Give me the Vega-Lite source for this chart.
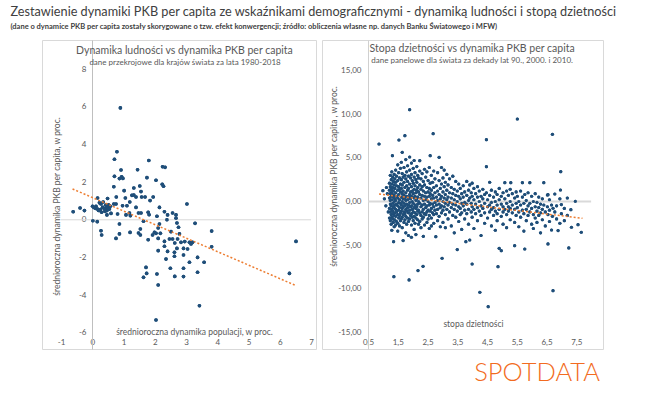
{
"$schema": "https://vega.github.io/schema/vega-lite/v6.json",
"background": "white",
"padding": {"left": 10, "top": 6, "right": 0, "bottom": 0},
"config": {
  "locale": {"number": {"decimal": ",", "thousands": " ", "grouping": [3], "currency": ["", ""], "minus": "-"}},
  "font": "Lato",
  "view": {"stroke": "#D9D9D9", "strokeWidth": 1},
  "axis": {"grid": false, "ticks": false, "domain": false, "labelOverlap": false, "labelFlush": false, "labelBound": false, "labelFont": "Lato", "labelFontSize": 8, "labelColor": "#595959", "titleFont": "Lato", "titleFontSize": 8.5, "titleColor": "#595959", "titleFontWeight": "normal", "labelPadding": 0}
},
"title": {"text": "Zestawienie dynamiki PKB per capita ze wskaźnikami demograficznymi - dynamiką ludności i stopą dzietności", "subtitle": "(dane o dynamice PKB per capita zostały skorygowane o tzw. efekt konwergencji; źródło: obliczenia własne np. danych Banku Światowego i MFW)", "anchor": "start", "dx": -31, "fontSize": 12.7, "fontWeight": "normal", "color": "#404040", "subtitleFontSize": 7.5, "subtitleColor": "#404040", "subtitleFontWeight": "bold", "subtitlePadding": 4, "offset": 9},
"spacing": 4,
"datasets": {
 "popData": [
{"pop":0.9,"gdp":5.95},{"pop":0.79,"gdp":3.62},{"pop":0.71,"gdp":3.22},{"pop":1.81,"gdp":3.15},{"pop":2.25,"gdp":2.82},{"pop":2.33,"gdp":2.79},{"pop":0.92,"gdp":2.65},{"pop":1.45,"gdp":2.66},{"pop":0.71,"gdp":2.31},{"pop":0.94,"gdp":2.29},{"pop":0.98,"gdp":2.2},{"pop":0.87,"gdp":2.19},{"pop":1.75,"gdp":2.24},{"pop":2.04,"gdp":2.1},{"pop":2.24,"gdp":1.89},{"pop":2.28,"gdp":1.78},{"pop":0.69,"gdp":1.76},{"pop":1.52,"gdp":1.8},{"pop":1.33,"gdp":1.69},{"pop":1.02,"gdp":1.55},{"pop":1.56,"gdp":1.5},{"pop":1.33,"gdp":1.32},{"pop":1.4,"gdp":1.21},{"pop":1.58,"gdp":1.21},{"pop":1.69,"gdp":1.21},{"pop":1.95,"gdp":1.21},{"pop":0.77,"gdp":1.21},{"pop":1.06,"gdp":1.16},{"pop":0.17,"gdp":1.16},{"pop":0.49,"gdp":1.13},
{"pop":0.28,"gdp":0.84},{"pop":0.23,"gdp":0.9},{"pop":1.85,"gdp":1.02},{"pop":0.69,"gdp":0.84},{"pop":0.97,"gdp":0.75},{"pop":1.11,"gdp":0.75},{"pop":1.4,"gdp":0.66},{"pop":0.12,"gdp":0.72},{"pop":0.01,"gdp":0.72},{"pop":-0.61,"gdp":0.43},{"pop":-0.39,"gdp":0.63},{"pop":-0.25,"gdp":0.49},{"pop":0.1,"gdp":0.61},{"pop":0.17,"gdp":0.57},{"pop":0.26,"gdp":0.54},{"pop":0.33,"gdp":0.66},{"pop":0.39,"gdp":0.57},{"pop":0.44,"gdp":0.61},{"pop":0.49,"gdp":0.66},{"pop":0.47,"gdp":0.49},{"pop":0.55,"gdp":0.57},{"pop":0.3,"gdp":0.4},{"pop":0.41,"gdp":0.45},{"pop":0.6,"gdp":0.34},{"pop":0.47,"gdp":0.26},{"pop":0.76,"gdp":0.84},{"pop":0.81,"gdp":0.31},{"pop":1.08,"gdp":0.26},{"pop":1.19,"gdp":0.36},{"pop":1.22,"gdp":0.22},{"pop":1.48,"gdp":0.36},{"pop":1.56,"gdp":0.36},{"pop":1.79,"gdp":0.4},{"pop":1.82,"gdp":0.27},{"pop":2.15,"gdp":0.66},{"pop":2.31,"gdp":0.43},{"pop":2.41,"gdp":0.26},{"pop":2.57,"gdp":0.36},{"pop":2.68,"gdp":0.26},{"pop":2.68,"gdp":0.08},{"pop":2.39,"gdp":0.0},{"pop":2.07,"gdp":0.19},{"pop":3.03,"gdp":0.84},{"pop":2.71,"gdp":-0.17},{"pop":3.29,"gdp":-0.19},{"pop":3.82,"gdp":-0.6},{"pop":6.52,"gdp":-1.15},{"pop":6.31,"gdp":-2.85},
{"pop":0.02,"gdp":-0.05},{"pop":0.16,"gdp":-0.1},{"pop":0.28,"gdp":-0.58},{"pop":0.3,"gdp":-0.81},{"pop":0.87,"gdp":-0.22},{"pop":0.87,"gdp":-0.75},{"pop":0.76,"gdp":-0.99},{"pop":1.21,"gdp":-0.67},{"pop":1.48,"gdp":-0.7},{"pop":1.54,"gdp":-0.49},{"pop":1.54,"gdp":-0.81},{"pop":1.64,"gdp":-0.08},{"pop":1.79,"gdp":-1.06},{"pop":1.93,"gdp":-0.81},{"pop":1.99,"gdp":-0.67},{"pop":2.04,"gdp":-0.72},{"pop":2.15,"gdp":-0.22},{"pop":2.11,"gdp":-0.44},{"pop":2.18,"gdp":-0.72},{"pop":2.11,"gdp":-0.99},{"pop":2.31,"gdp":-1.15},{"pop":2.31,"gdp":-1.41},{"pop":2.47,"gdp":-1.02},{"pop":2.52,"gdp":-0.63},{"pop":2.57,"gdp":-1.02},{"pop":2.64,"gdp":-1.23},{"pop":2.79,"gdp":-0.75},{"pop":2.73,"gdp":-1.02},{"pop":2.76,"gdp":-0.4},{"pop":2.84,"gdp":-1.2},{"pop":2.96,"gdp":-1.16},{"pop":3.11,"gdp":-1.2},{"pop":3.16,"gdp":-1.29},{"pop":3.21,"gdp":-1.2},{"pop":2.92,"gdp":-1.52},{"pop":3.05,"gdp":-1.55},{"pop":2.71,"gdp":-1.52},{"pop":2.63,"gdp":-1.73},{"pop":2.41,"gdp":-1.68},{"pop":2.11,"gdp":-1.64},{"pop":2.36,"gdp":-2.09},{"pop":2.63,"gdp":-1.94},{"pop":2.92,"gdp":-1.87},{"pop":3.11,"gdp":-2.26},{"pop":3.37,"gdp":-2.0},{"pop":3.58,"gdp":-2.26},{"pop":3.82,"gdp":-1.43},{"pop":2.92,"gdp":-2.58},{"pop":3.37,"gdp":-2.79},{"pop":2.5,"gdp":-2.58},{"pop":2.92,"gdp":-3.02},{"pop":2.64,"gdp":-3.01},{"pop":1.72,"gdp":-2.53},{"pop":1.74,"gdp":-2.85},{"pop":1.64,"gdp":-3.06},{"pop":2.07,"gdp":-2.88},{"pop":2.11,"gdp":-3.47},{"pop":3.43,"gdp":-4.57},{"pop":2.04,"gdp":-5.33},
{"pop":0.35,"gdp":0.95},{"pop":0.52,"gdp":0.8},{"pop":0.58,"gdp":0.72},{"pop":0.43,"gdp":0.78},{"pop":0.2,"gdp":0.5},{"pop":0.05,"gdp":0.65},{"pop":1.2,"gdp":0.95},{"pop":1.27,"gdp":1.3}
 ],
 "trendL": [{"pop":-0.63,"gdp":1.64},{"pop":6.52,"gdp":-3.5}],
 "tfrData": [
{"tfr":0.87,"gdp":6.59},{"tfr":1.0,"gdp":1.24},{"tfr":1.05,"gdp":0.3},{"tfr":1.1,"gdp":-0.5},{"tfr":1.15,"gdp":0.9},{"tfr":1.12,"gdp":1.6},{"tfr":1.18,"gdp":-1.2},
{"tfr":1.22,"gdp":2.1},{"tfr":1.22,"gdp":0.4},{"tfr":1.22,"gdp":-0.8},{"tfr":1.22,"gdp":-1.9},{"tfr":1.22,"gdp":1.3},
{"tfr":1.25,"gdp":3.0},{"tfr":1.25,"gdp":1.7},{"tfr":1.25,"gdp":0.9},{"tfr":1.25,"gdp":0.1},{"tfr":1.25,"gdp":-0.3},{"tfr":1.25,"gdp":-1.2},{"tfr":1.25,"gdp":-2.2},
{"tfr":1.28,"gdp":2.5},{"tfr":1.28,"gdp":1.4},{"tfr":1.28,"gdp":0.6},{"tfr":1.28,"gdp":-0.5},{"tfr":1.28,"gdp":-1.5},{"tfr":1.28,"gdp":-2.6},
{"tfr":1.3,"gdp":3.4},{"tfr":1.3,"gdp":2.0},{"tfr":1.3,"gdp":1.1},{"tfr":1.3,"gdp":0.2},{"tfr":1.3,"gdp":-0.9},{"tfr":1.3,"gdp":-1.8},{"tfr":1.3,"gdp":-3.3},
{"tfr":1.33,"gdp":2.8},{"tfr":1.33,"gdp":1.6},{"tfr":1.33,"gdp":0.8},{"tfr":1.33,"gdp":-0.2},{"tfr":1.33,"gdp":-1.1},{"tfr":1.33,"gdp":-2.0},
{"tfr":1.35,"gdp":2.3},{"tfr":1.35,"gdp":1.2},{"tfr":1.35,"gdp":0.5},{"tfr":1.35,"gdp":-0.6},{"tfr":1.35,"gdp":-1.4},{"tfr":1.35,"gdp":-2.4},
{"tfr":1.38,"gdp":3.1},{"tfr":1.38,"gdp":1.9},{"tfr":1.38,"gdp":0.7},{"tfr":1.38,"gdp":0.0},{"tfr":1.38,"gdp":-0.7},{"tfr":1.38,"gdp":-1.6},{"tfr":1.38,"gdp":-2.9},
{"tfr":1.4,"gdp":2.6},{"tfr":1.4,"gdp":1.5},{"tfr":1.4,"gdp":0.3},{"tfr":1.4,"gdp":-0.4},{"tfr":1.4,"gdp":-1.3},{"tfr":1.4,"gdp":-2.1},
{"tfr":1.32,"gdp":5.25},{"tfr":1.36,"gdp":-4.61},{"tfr":1.37,"gdp":-8.62},{"tfr":1.54,"gdp":7.05},
{"tfr":1.43,"gdp":3.6},{"tfr":1.43,"gdp":2.2},{"tfr":1.43,"gdp":1.0},{"tfr":1.43,"gdp":0.1},{"tfr":1.43,"gdp":-0.9},{"tfr":1.43,"gdp":-1.7},{"tfr":1.43,"gdp":-2.7},
{"tfr":1.46,"gdp":2.9},{"tfr":1.46,"gdp":1.8},{"tfr":1.46,"gdp":0.6},{"tfr":1.46,"gdp":-0.3},{"tfr":1.46,"gdp":-1.2},{"tfr":1.46,"gdp":-2.3},
{"tfr":1.5,"gdp":4.2},{"tfr":1.5,"gdp":2.4},{"tfr":1.5,"gdp":1.3},{"tfr":1.5,"gdp":0.4},{"tfr":1.5,"gdp":-0.5},{"tfr":1.5,"gdp":-1.5},{"tfr":1.5,"gdp":-2.5},{"tfr":1.5,"gdp":-3.4},
{"tfr":1.53,"gdp":3.3},{"tfr":1.53,"gdp":1.7},{"tfr":1.53,"gdp":0.8},{"tfr":1.53,"gdp":-0.1},{"tfr":1.53,"gdp":-1.0},{"tfr":1.53,"gdp":-1.9},
{"tfr":1.56,"gdp":2.7},{"tfr":1.56,"gdp":1.4},{"tfr":1.56,"gdp":0.2},{"tfr":1.56,"gdp":-0.7},{"tfr":1.56,"gdp":-1.6},{"tfr":1.56,"gdp":-2.8},
{"tfr":1.59,"gdp":3.8},{"tfr":1.59,"gdp":2.0},{"tfr":1.59,"gdp":1.1},{"tfr":1.59,"gdp":-0.2},{"tfr":1.59,"gdp":-1.3},{"tfr":1.59,"gdp":-2.2},
{"tfr":1.62,"gdp":4.5},{"tfr":1.62,"gdp":2.5},{"tfr":1.62,"gdp":1.5},{"tfr":1.62,"gdp":0.5},{"tfr":1.62,"gdp":-0.4},{"tfr":1.62,"gdp":-1.1},{"tfr":1.62,"gdp":-2.0},
{"tfr":1.65,"gdp":5.64},{"tfr":1.65,"gdp":3.2},{"tfr":1.65,"gdp":1.9},{"tfr":1.65,"gdp":0.9},{"tfr":1.65,"gdp":0.0},{"tfr":1.65,"gdp":-0.8},{"tfr":1.65,"gdp":-1.8},{"tfr":1.65,"gdp":-3.0},
{"tfr":1.68,"gdp":2.8},{"tfr":1.68,"gdp":1.2},{"tfr":1.68,"gdp":0.3},{"tfr":1.68,"gdp":-0.6},{"tfr":1.68,"gdp":-1.5},{"tfr":1.68,"gdp":-4.49},
{"tfr":1.71,"gdp":3.9},{"tfr":1.71,"gdp":2.2},{"tfr":1.71,"gdp":0.7},{"tfr":1.71,"gdp":-0.2},{"tfr":1.71,"gdp":-1.2},{"tfr":1.71,"gdp":-2.4},
{"tfr":1.74,"gdp":7.55},{"tfr":1.74,"gdp":3.0},{"tfr":1.74,"gdp":1.6},{"tfr":1.74,"gdp":0.4},{"tfr":1.74,"gdp":-0.5},{"tfr":1.74,"gdp":-1.4},{"tfr":1.74,"gdp":-2.1},
{"tfr":1.77,"gdp":4.8},{"tfr":1.77,"gdp":2.6},{"tfr":1.77,"gdp":1.0},{"tfr":1.77,"gdp":0.1},{"tfr":1.77,"gdp":-0.9},{"tfr":1.77,"gdp":-1.7},{"tfr":1.77,"gdp":-3.6},
{"tfr":1.8,"gdp":3.4},{"tfr":1.8,"gdp":1.8},{"tfr":1.8,"gdp":0.6},{"tfr":1.8,"gdp":-0.3},{"tfr":1.8,"gdp":-1.1},{"tfr":1.8,"gdp":-2.6},
{"tfr":1.83,"gdp":4.1},{"tfr":1.83,"gdp":2.3},{"tfr":1.83,"gdp":1.3},{"tfr":1.83,"gdp":0.2},{"tfr":1.83,"gdp":-0.7},{"tfr":1.83,"gdp":-1.9},
{"tfr":1.86,"gdp":2.9},{"tfr":1.86,"gdp":1.5},{"tfr":1.86,"gdp":0.5},{"tfr":1.86,"gdp":-0.4},{"tfr":1.86,"gdp":-1.3},{"tfr":1.86,"gdp":-2.3},{"tfr":1.86,"gdp":-3.9},
{"tfr":1.88,"gdp":-9.0},
{"tfr":1.9,"gdp":10.53},{"tfr":1.9,"gdp":5.1},{"tfr":1.9,"gdp":3.6},{"tfr":1.9,"gdp":2.0},{"tfr":1.9,"gdp":0.8},{"tfr":1.9,"gdp":-0.1},{"tfr":1.9,"gdp":-1.0},{"tfr":1.9,"gdp":-2.0},
{"tfr":1.93,"gdp":2.7},{"tfr":1.93,"gdp":1.1},{"tfr":1.93,"gdp":0.3},{"tfr":1.93,"gdp":-0.6},{"tfr":1.93,"gdp":-1.6},
{"tfr":1.96,"gdp":4.4},{"tfr":1.96,"gdp":3.1},{"tfr":1.96,"gdp":1.7},{"tfr":1.96,"gdp":0.6},{"tfr":1.96,"gdp":-0.5},{"tfr":1.96,"gdp":-1.4},{"tfr":1.96,"gdp":-2.7},{"tfr":1.96,"gdp":-4.1},
{"tfr":1.99,"gdp":2.4},{"tfr":1.99,"gdp":1.2},{"tfr":1.99,"gdp":0.0},{"tfr":1.99,"gdp":-0.9},{"tfr":1.99,"gdp":-1.8},
{"tfr":2.02,"gdp":3.8},{"tfr":2.02,"gdp":2.1},{"tfr":2.02,"gdp":0.9},{"tfr":2.02,"gdp":-0.2},{"tfr":2.02,"gdp":-1.2},{"tfr":2.02,"gdp":-2.2},
{"tfr":2.05,"gdp":4.7},{"tfr":2.05,"gdp":2.8},{"tfr":2.05,"gdp":1.4},{"tfr":2.05,"gdp":0.4},{"tfr":2.05,"gdp":-0.7},{"tfr":2.05,"gdp":-1.7},{"tfr":2.05,"gdp":-3.2},
{"tfr":2.08,"gdp":3.3},{"tfr":2.08,"gdp":1.8},{"tfr":2.08,"gdp":0.6},{"tfr":2.08,"gdp":-0.4},{"tfr":2.08,"gdp":-1.3},{"tfr":2.08,"gdp":-2.5},
{"tfr":2.11,"gdp":2.5},{"tfr":2.11,"gdp":1.0},{"tfr":2.11,"gdp":0.1},{"tfr":2.11,"gdp":-0.8},{"tfr":2.11,"gdp":-1.9},{"tfr":2.11,"gdp":-3.8},
{"tfr":2.14,"gdp":4.0},{"tfr":2.14,"gdp":2.2},{"tfr":2.14,"gdp":1.3},{"tfr":2.14,"gdp":0.3},{"tfr":2.14,"gdp":-0.6},{"tfr":2.14,"gdp":-1.5},
{"tfr":2.17,"gdp":3.0},{"tfr":2.17,"gdp":1.6},{"tfr":2.17,"gdp":0.5},{"tfr":2.17,"gdp":-0.3},{"tfr":2.17,"gdp":-1.1},{"tfr":2.17,"gdp":-2.1},{"tfr":2.18,"gdp":-7.93},
{"tfr":2.2,"gdp":2.7},{"tfr":2.2,"gdp":1.1},{"tfr":2.2,"gdp":0.0},{"tfr":2.2,"gdp":-1.0},{"tfr":2.2,"gdp":-2.6},
{"tfr":2.24,"gdp":4.68},{"tfr":2.24,"gdp":3.5},{"tfr":2.24,"gdp":1.9},{"tfr":2.24,"gdp":0.8},{"tfr":2.24,"gdp":-0.2},{"tfr":2.24,"gdp":-1.3},{"tfr":2.24,"gdp":-2.3},
{"tfr":2.28,"gdp":2.6},{"tfr":2.28,"gdp":1.4},{"tfr":2.28,"gdp":0.4},{"tfr":2.28,"gdp":-0.6},{"tfr":2.28,"gdp":-1.6},{"tfr":2.28,"gdp":-3.0},
{"tfr":2.32,"gdp":3.2},{"tfr":2.32,"gdp":1.7},{"tfr":2.32,"gdp":0.7},{"tfr":2.32,"gdp":-0.4},{"tfr":2.32,"gdp":-1.2},{"tfr":2.32,"gdp":-2.0},{"tfr":2.35,"gdp":-7.44},
{"tfr":2.36,"gdp":2.3},{"tfr":2.36,"gdp":1.2},{"tfr":2.36,"gdp":0.1},{"tfr":2.36,"gdp":-0.9},{"tfr":2.36,"gdp":-1.8},{"tfr":2.36,"gdp":-4.0},
{"tfr":2.4,"gdp":3.7},{"tfr":2.4,"gdp":1.9},{"tfr":2.4,"gdp":0.6},{"tfr":2.4,"gdp":-0.3},{"tfr":2.4,"gdp":-1.4},{"tfr":2.4,"gdp":-2.7},
{"tfr":2.44,"gdp":2.8},{"tfr":2.44,"gdp":1.0},{"tfr":2.44,"gdp":0.2},{"tfr":2.44,"gdp":-0.7},{"tfr":2.44,"gdp":-1.5},
{"tfr":2.48,"gdp":3.4},{"tfr":2.48,"gdp":1.6},{"tfr":2.48,"gdp":0.5},{"tfr":2.48,"gdp":-0.5},{"tfr":2.48,"gdp":-1.2},{"tfr":2.48,"gdp":-2.4},
{"tfr":2.52,"gdp":2.4},{"tfr":2.52,"gdp":1.1},{"tfr":2.52,"gdp":0.0},{"tfr":2.52,"gdp":-1.0},{"tfr":2.52,"gdp":-2.0},
{"tfr":2.56,"gdp":3.9},{"tfr":2.56,"gdp":1.5},{"tfr":2.56,"gdp":0.6},{"tfr":2.56,"gdp":-0.4},{"tfr":2.56,"gdp":-1.6},{"tfr":2.56,"gdp":-3.1},
{"tfr":2.59,"gdp":5.25},{"tfr":2.59,"gdp":2.1},{"tfr":2.59,"gdp":0.9},{"tfr":2.59,"gdp":-0.2},{"tfr":2.59,"gdp":-1.1},
{"tfr":2.63,"gdp":3.0},{"tfr":2.63,"gdp":1.3},{"tfr":2.63,"gdp":0.3},{"tfr":2.63,"gdp":-0.8},{"tfr":2.63,"gdp":-1.9},{"tfr":2.63,"gdp":-2.8},
{"tfr":2.67,"gdp":2.2},{"tfr":2.67,"gdp":0.7},{"tfr":2.67,"gdp":-0.3},{"tfr":2.67,"gdp":-1.3},{"tfr":2.69,"gdp":7.78},
{"tfr":2.71,"gdp":3.5},{"tfr":2.71,"gdp":1.6},{"tfr":2.71,"gdp":0.4},{"tfr":2.71,"gdp":-0.6},{"tfr":2.71,"gdp":-1.5},{"tfr":2.71,"gdp":-2.5},
{"tfr":2.75,"gdp":2.6},{"tfr":2.75,"gdp":1.0},{"tfr":2.75,"gdp":-0.1},{"tfr":2.75,"gdp":-1.0},{"tfr":2.78,"gdp":-4.04},
{"tfr":2.8,"gdp":1.8},{"tfr":2.8,"gdp":0.5},{"tfr":2.8,"gdp":-0.4},{"tfr":2.8,"gdp":-1.4},
{"tfr":2.84,"gdp":3.3},{"tfr":2.84,"gdp":1.2},{"tfr":2.84,"gdp":0.1},{"tfr":2.84,"gdp":-0.9},{"tfr":2.84,"gdp":-2.2},
{"tfr":2.89,"gdp":5.06},{"tfr":2.89,"gdp":2.4},{"tfr":2.89,"gdp":0.8},{"tfr":2.89,"gdp":-0.3},{"tfr":2.89,"gdp":-1.7},
{"tfr":2.93,"gdp":1.5},{"tfr":2.93,"gdp":0.3},{"tfr":2.93,"gdp":-0.7},{"tfr":2.93,"gdp":-2.9},
{"tfr":2.97,"gdp":3.9},{"tfr":2.97,"gdp":2.0},{"tfr":2.97,"gdp":0.6},{"tfr":2.97,"gdp":-0.5},{"tfr":2.97,"gdp":-1.3},{"tfr":2.99,"gdp":-6.51},
{"tfr":3.02,"gdp":2.7},{"tfr":3.02,"gdp":1.1},{"tfr":3.02,"gdp":0.0},{"tfr":3.02,"gdp":-1.0},{"tfr":3.02,"gdp":-2.4},
{"tfr":3.06,"gdp":3.6},{"tfr":3.06,"gdp":1.7},{"tfr":3.06,"gdp":0.4},{"tfr":3.06,"gdp":-0.6},
{"tfr":3.1,"gdp":2.2},{"tfr":3.1,"gdp":0.8},{"tfr":3.1,"gdp":-0.2},{"tfr":3.1,"gdp":-1.5},{"tfr":3.1,"gdp":-3.0},
{"tfr":3.15,"gdp":3.1},{"tfr":3.15,"gdp":1.3},{"tfr":3.15,"gdp":0.2},{"tfr":3.15,"gdp":-0.9},
{"tfr":3.19,"gdp":1.9},{"tfr":3.19,"gdp":0.5},{"tfr":3.19,"gdp":-0.4},{"tfr":3.19,"gdp":-2.0},
{"tfr":3.24,"gdp":2.6},{"tfr":3.24,"gdp":1.0},{"tfr":3.24,"gdp":-0.1},{"tfr":3.24,"gdp":-1.2},
{"tfr":3.3,"gdp":1.6},{"tfr":3.3,"gdp":0.4},{"tfr":3.3,"gdp":-0.7},{"tfr":3.3,"gdp":-2.8},
{"tfr":3.35,"gdp":2.9},{"tfr":3.35,"gdp":0.9},{"tfr":3.35,"gdp":-0.3},{"tfr":3.35,"gdp":-1.6},
{"tfr":3.4,"gdp":1.4},{"tfr":3.4,"gdp":0.2},{"tfr":3.4,"gdp":-0.9},{"tfr":3.4,"gdp":-3.6},
{"tfr":3.45,"gdp":2.3},{"tfr":3.45,"gdp":0.7},{"tfr":3.45,"gdp":-0.4},{"tfr":3.45,"gdp":-1.8},
{"tfr":3.5,"gdp":1.2},{"tfr":3.5,"gdp":0.0},{"tfr":3.5,"gdp":-1.1},{"tfr":3.5,"gdp":-5.52},
{"tfr":3.55,"gdp":2.0},{"tfr":3.55,"gdp":0.6},{"tfr":3.55,"gdp":-0.6},{"tfr":3.55,"gdp":-2.3},
{"tfr":3.6,"gdp":1.5},{"tfr":3.6,"gdp":0.3},{"tfr":3.6,"gdp":-0.8},{"tfr":3.6,"gdp":-1.5},
{"tfr":3.65,"gdp":0.9},{"tfr":3.65,"gdp":-0.2},{"tfr":3.65,"gdp":-1.3},{"tfr":3.65,"gdp":-3.2},
{"tfr":3.7,"gdp":1.8},{"tfr":3.7,"gdp":0.5},{"tfr":3.7,"gdp":-0.5},
{"tfr":3.75,"gdp":1.1},{"tfr":3.75,"gdp":-0.1},{"tfr":3.75,"gdp":-1.0},{"tfr":3.75,"gdp":-2.0},
{"tfr":3.79,"gdp":-4.61},{"tfr":3.82,"gdp":2.3},{"tfr":3.82,"gdp":0.7},{"tfr":3.82,"gdp":-0.3},{"tfr":3.82,"gdp":-1.4},
{"tfr":3.88,"gdp":1.3},{"tfr":3.88,"gdp":0.1},{"tfr":3.88,"gdp":-0.9},{"tfr":3.88,"gdp":-2.6},
{"tfr":3.92,"gdp":-4.42},{"tfr":3.92,"gdp":1.9},{"tfr":3.92,"gdp":0.4},
{"tfr":3.97,"gdp":1.0},{"tfr":3.97,"gdp":-0.2},{"tfr":3.97,"gdp":-1.2},
{"tfr":4.0,"gdp":-7.17},{"tfr":4.0,"gdp":2.1},{"tfr":4.0,"gdp":0.6},{"tfr":4.0,"gdp":-0.6},{"tfr":4.0,"gdp":-1.8},
{"tfr":4.06,"gdp":1.5},{"tfr":4.06,"gdp":0.2},{"tfr":4.06,"gdp":-0.9},{"tfr":4.06,"gdp":-3.1},
{"tfr":4.12,"gdp":0.9},{"tfr":4.12,"gdp":-0.3},{"tfr":4.12,"gdp":-1.4},
{"tfr":4.18,"gdp":1.7},{"tfr":4.18,"gdp":0.5},{"tfr":4.18,"gdp":-0.7},{"tfr":4.18,"gdp":-2.2},
{"tfr":4.24,"gdp":1.2},{"tfr":4.24,"gdp":0.0},{"tfr":4.24,"gdp":-1.1},{"tfr":4.26,"gdp":-10.41},
{"tfr":4.3,"gdp":0.6},{"tfr":4.3,"gdp":-0.5},{"tfr":4.3,"gdp":-1.6},{"tfr":4.3,"gdp":-3.9},
{"tfr":4.36,"gdp":1.4},{"tfr":4.36,"gdp":0.3},{"tfr":4.36,"gdp":-0.8},
{"tfr":4.42,"gdp":0.8},{"tfr":4.42,"gdp":-0.2},{"tfr":4.42,"gdp":-1.3},{"tfr":4.42,"gdp":-2.5},
{"tfr":4.48,"gdp":7.09},{"tfr":4.48,"gdp":3.99},{"tfr":4.48,"gdp":1.0},
{"tfr":4.52,"gdp":0.2},{"tfr":4.52,"gdp":-0.6},{"tfr":4.52,"gdp":-1.9},{"tfr":4.54,"gdp":-12.06},
{"tfr":4.59,"gdp":2.2},{"tfr":4.59,"gdp":0.7},{"tfr":4.59,"gdp":-0.4},{"tfr":4.59,"gdp":-1.2},
{"tfr":4.65,"gdp":1.3},{"tfr":4.65,"gdp":-0.1},{"tfr":4.65,"gdp":-0.9},{"tfr":4.65,"gdp":-2.8},
{"tfr":4.72,"gdp":0.5},{"tfr":4.72,"gdp":-0.7},{"tfr":4.72,"gdp":-1.6},
{"tfr":4.78,"gdp":1.1},{"tfr":4.78,"gdp":0.0},{"tfr":4.78,"gdp":-1.1},{"tfr":4.78,"gdp":-3.3},
{"tfr":4.84,"gdp":0.8},{"tfr":4.84,"gdp":-0.4},{"tfr":4.84,"gdp":-1.4},{"tfr":4.84,"gdp":-2.2},
{"tfr":4.87,"gdp":-7.48},{"tfr":4.91,"gdp":1.5},{"tfr":4.91,"gdp":-5.37},{"tfr":4.91,"gdp":0.2},{"tfr":4.91,"gdp":-0.9},
{"tfr":4.98,"gdp":-5.64},{"tfr":4.98,"gdp":0.6},{"tfr":4.98,"gdp":-0.3},{"tfr":4.98,"gdp":-1.7},
{"tfr":5.04,"gdp":1.0},{"tfr":5.04,"gdp":-0.6},{"tfr":5.04,"gdp":-1.2},{"tfr":5.04,"gdp":-2.6},
{"tfr":5.1,"gdp":2.16},{"tfr":5.1,"gdp":0.3},{"tfr":5.1,"gdp":-0.9},
{"tfr":5.16,"gdp":1.2},{"tfr":5.16,"gdp":-0.2},{"tfr":5.16,"gdp":-1.5},{"tfr":5.16,"gdp":-3.0},
{"tfr":5.22,"gdp":0.7},{"tfr":5.22,"gdp":-0.6},{"tfr":5.22,"gdp":-1.1},
{"tfr":5.28,"gdp":1.4},{"tfr":5.28,"gdp":0.0},{"tfr":5.28,"gdp":-0.8},{"tfr":5.28,"gdp":-2.1},{"tfr":5.3,"gdp":2.16},
{"tfr":5.35,"gdp":0.9},{"tfr":5.35,"gdp":-0.4},{"tfr":5.35,"gdp":-1.3},
{"tfr":5.43,"gdp":-5.07},{"tfr":5.43,"gdp":0.4},{"tfr":5.43,"gdp":-0.9},{"tfr":5.43,"gdp":-2.4},
{"tfr":5.48,"gdp":1.1},{"tfr":5.48,"gdp":-0.2},{"tfr":5.48,"gdp":-1.6},
{"tfr":5.52,"gdp":9.46},{"tfr":5.52,"gdp":0.6},{"tfr":5.52,"gdp":-0.7},
{"tfr":5.57,"gdp":0.0},{"tfr":5.57,"gdp":-1.2},{"tfr":5.57,"gdp":-2.9},
{"tfr":5.63,"gdp":1.2},{"tfr":5.63,"gdp":-0.4},{"tfr":5.63,"gdp":-1.8},
{"tfr":5.69,"gdp":2.16},{"tfr":5.69,"gdp":0.5},{"tfr":5.69,"gdp":-1.0},
{"tfr":5.74,"gdp":-0.2},{"tfr":5.74,"gdp":-1.4},{"tfr":5.74,"gdp":-3.4},
{"tfr":5.77,"gdp":-5.45},{"tfr":5.77,"gdp":0.8},
{"tfr":5.82,"gdp":0.1},{"tfr":5.82,"gdp":-0.9},{"tfr":5.82,"gdp":-2.2},
{"tfr":5.88,"gdp":1.0},{"tfr":5.88,"gdp":-0.5},{"tfr":5.88,"gdp":-1.6},
{"tfr":5.94,"gdp":2.16},{"tfr":5.94,"gdp":-0.2},{"tfr":5.94,"gdp":-1.2},
{"tfr":6.0,"gdp":0.6},{"tfr":6.0,"gdp":-0.8},{"tfr":6.0,"gdp":-2.6},
{"tfr":6.06,"gdp":0.0},{"tfr":6.06,"gdp":-1.5},{"tfr":6.06,"gdp":-3.1},
{"tfr":6.12,"gdp":0.9},{"tfr":6.12,"gdp":-0.6},{"tfr":6.12,"gdp":-1.9},
{"tfr":6.18,"gdp":-0.1},{"tfr":6.18,"gdp":-1.1},{"tfr":6.18,"gdp":-2.4},
{"tfr":6.24,"gdp":0.5},{"tfr":6.24,"gdp":-0.7},{"tfr":6.24,"gdp":-1.6},
{"tfr":6.3,"gdp":-0.3},{"tfr":6.3,"gdp":-1.3},{"tfr":6.3,"gdp":-3.6},
{"tfr":6.36,"gdp":0.3},{"tfr":6.36,"gdp":-0.9},{"tfr":6.36,"gdp":-2.1},
{"tfr":6.41,"gdp":2.16},{"tfr":6.41,"gdp":-0.4},{"tfr":6.46,"gdp":-1.2},{"tfr":6.46,"gdp":-2.8},
{"tfr":6.53,"gdp":0.74},{"tfr":6.53,"gdp":-0.6},{"tfr":6.55,"gdp":0.78},{"tfr":6.55,"gdp":-4.87},{"tfr":6.55,"gdp":-1.5},
{"tfr":6.6,"gdp":0.2},{"tfr":6.6,"gdp":-1.0},{"tfr":6.6,"gdp":-2.3},
{"tfr":6.67,"gdp":-3.27},{"tfr":6.67,"gdp":-0.4},{"tfr":6.7,"gdp":7.7},{"tfr":6.7,"gdp":-1.7},
{"tfr":6.72,"gdp":-0.78},{"tfr":6.72,"gdp":-10.23},{"tfr":6.78,"gdp":0.86},{"tfr":6.78,"gdp":-1.2},
{"tfr":6.84,"gdp":-0.5},{"tfr":6.84,"gdp":-2.0},{"tfr":6.89,"gdp":-3.34},{"tfr":6.95,"gdp":-2.5},{"tfr":6.95,"gdp":0.3},
{"tfr":6.97,"gdp":1.32},{"tfr":6.98,"gdp":3.42},{"tfr":7.0,"gdp":-0.36},{"tfr":7.0,"gdp":-1.4},
{"tfr":7.1,"gdp":-0.8},{"tfr":7.1,"gdp":-2.2},{"tfr":7.2,"gdp":0.4},{"tfr":7.2,"gdp":-1.6},
{"tfr":7.25,"gdp":-5.33},{"tfr":7.32,"gdp":-0.94},{"tfr":7.34,"gdp":-2.96},{"tfr":7.47,"gdp":0.02},{"tfr":7.56,"gdp":-2.66},{"tfr":7.67,"gdp":-3.53}
 ],
 "trendR": [{"tfr":0.87,"gdp":0.86},{"tfr":7.71,"gdp":-1.93}],
 "zeroL": [{"pop":-1,"pop2":7,"gdp":0}],
 "zeroR": [{"tfr":0.5,"tfr2":8,"gdp":0}],
 "one": [{"k":1}],
 "textL": [{"title":"Dynamika ludności vs dynamika PKB per capita","subtitle":"dane przekrojowe dla krajów świata za lata 1980-2018"}],
 "textR": [{"title":"Stopa dzietności vs dynamika PKB per capita","subtitle":"dane panelowe dla świata za dekady lat 90., 2000. i 2010.","logo":"SPOTDATA"}]
},
"hconcat": [
 {
  "width": 274, "height": 309,
  "layer": [
   {"data": {"name": "popData"}, "mark": {"type": "circle", "color": "#1F4E79", "opacity": 1, "size": 13},
    "encoding": {
     "x": {"field": "pop", "type": "quantitative", "scale": {"domain": [-1.608, 7.16], "nice": false, "zero": false},
       "axis": {"values": [-1,0,1,2,3,4,5,6,7], "format": ".0f", "tickCount": 9, "labelOverlap": false, "labelFlush": false, "labelBound": false, "offset": -7, "labelBaseline": "middle", "title": "średnioroczna dynamika populacji, w proc.", "titleX": 152, "titleY": -11, "titleBaseline": "middle", "titleAlign": "center"}},
     "y": {"field": "gdp", "type": "quantitative", "scale": {"domain": [-6.87, 9.56], "nice": false, "zero": false},
       "axis": {"values": [-6,-4,-2,0,2,4,6,8], "format": "d", "labelOverlap": false, "offset": -50, "labelPadding": 6, "domain": true, "domainColor": "#BFBFBF", "domainWidth": 1, "title": "średnioroczna dynamika PKB per capita, w proc.", "titleX": -36, "titleY": 166, "titleBaseline": "middle", "titleAlign": "center", "titleAngle": -90}}
    }},
   {"data": {"name": "zeroL"}, "mark": {"type": "rule", "color": "#D9D9D9", "strokeWidth": 1},
    "encoding": {"x": {"field": "pop", "type": "quantitative"}, "x2": {"field": "pop2"}, "y": {"field": "gdp", "type": "quantitative"}}},
   {"data": {"name": "popData"}, "mark": {"type": "circle", "color": "#1F4E79", "opacity": 1, "size": 13},
    "encoding": {"x": {"field": "pop", "type": "quantitative"}, "y": {"field": "gdp", "type": "quantitative"}}},
   {"data": {"name": "trendL"}, "mark": {"type": "line", "color": "#ED7D31", "strokeWidth": 1.5, "strokeDash": [2, 2]},
    "encoding": {"x": {"field": "pop", "type": "quantitative"}, "y": {"field": "gdp", "type": "quantitative"}}},
   {"data": {"name": "textL"}, "mark": {"type": "text", "color": "#595959", "font": "Lato", "fontSize": 10.5, "align": "center", "baseline": "middle"},
    "encoding": {"x": {"datum": 2.95}, "y": {"datum": 8.975}, "text": {"field": "title"}}},
   {"data": {"name": "textL"}, "mark": {"type": "text", "color": "#595959", "font": "Lato", "fontSize": 8, "align": "center", "baseline": "middle"},
    "encoding": {"x": {"datum": 2.97}, "y": {"datum": 8.337}, "text": {"field": "subtitle"}}}
  ]
 },
 {
  "width": 281, "height": 309,
  "layer": [
   {"data": {"name": "tfrData"}, "mark": {"type": "circle", "color": "#1F4E79", "opacity": 1, "size": 10},
    "encoding": {
     "x": {"field": "tfr", "type": "quantitative", "scale": {"domain": [-1.047, 8.4], "nice": false, "zero": false},
       "axis": {"values": [0.5,1.5,2.5,3.5,4.5,5.5,6.5,7.5], "format": ".1f", "labelOverlap": false, "offset": -7, "labelBaseline": "middle", "title": "stopa dzietności", "titleX": 151, "titleY": -19, "titleBaseline": "middle", "titleAlign": "center"}},
     "y": {"field": "gdp", "type": "quantitative", "scale": {"domain": [-16.92, 18.52], "nice": false, "zero": false},
       "axis": {"values": [-15,-10,-5,0,5,10,15], "format": ".2f", "labelOverlap": false, "offset": -46, "labelPadding": 7, "domain": true, "domainColor": "#D0D0D0", "domainWidth": 1, "title": "średnioroczna dynamika PKB per capita , w proc.", "titleX": -35, "titleY": 136, "titleBaseline": "middle", "titleAlign": "center", "titleAngle": -90}}
    }},
   {"data": {"name": "zeroR"}, "mark": {"type": "rule", "color": "#D9D9D9", "strokeWidth": 2},
    "encoding": {"x": {"field": "tfr", "type": "quantitative"}, "x2": {"field": "tfr2"}, "y": {"field": "gdp", "type": "quantitative"}}},
   {"data": {"name": "tfrData"}, "mark": {"type": "circle", "color": "#1F4E79", "opacity": 1, "size": 10},
    "encoding": {"x": {"field": "tfr", "type": "quantitative"}, "y": {"field": "gdp", "type": "quantitative"}}},
   {"data": {"name": "trendR"}, "mark": {"type": "line", "color": "#ED7D31", "strokeWidth": 1.5, "strokeDash": [2, 2]},
    "encoding": {"x": {"field": "tfr", "type": "quantitative"}, "y": {"field": "gdp", "type": "quantitative"}}},
   {"data": {"name": "textR"}, "mark": {"type": "text", "color": "#595959", "font": "Lato", "fontSize": 10.5, "align": "center", "baseline": "middle"},
    "encoding": {"x": {"datum": 4.0}, "y": {"datum": 17.49}, "text": {"field": "title"}}},
   {"data": {"name": "textR"}, "mark": {"type": "text", "color": "#595959", "font": "Lato", "fontSize": 8, "align": "center", "baseline": "middle"},
    "encoding": {"x": {"datum": 4.0}, "y": {"datum": 16.11}, "text": {"field": "subtitle"}}},
   {"data": {"name": "textR"}, "mark": {"type": "text", "color": "#F26B21", "font": "Lato", "fontWeight": 300, "fontSize": 25.5, "align": "right", "baseline": "middle"},
    "encoding": {"x": {"datum": 8.3}, "y": {"datum": -19.66}, "text": {"field": "logo"}}}
  ]
 }
]
}
